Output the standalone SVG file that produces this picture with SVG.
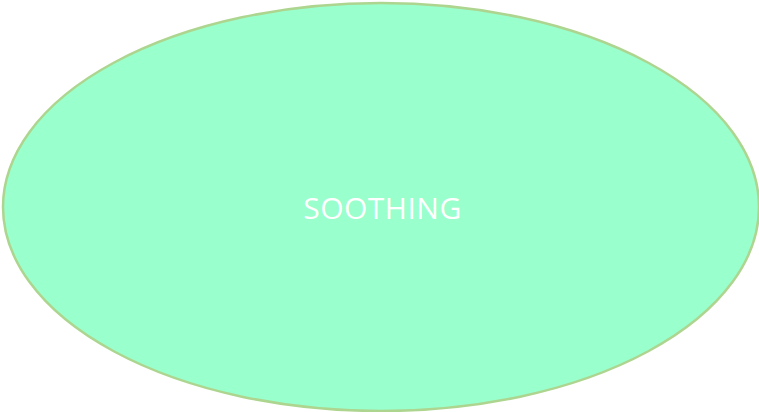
<svg xmlns="http://www.w3.org/2000/svg" width="759" height="412" viewBox="0 0 759 412">
<style>
.node{fill:#99ffcc;stroke:#add58f;stroke-width:2.5}
.label{font-family:"Open Sans","Noto Sans",sans-serif;font-size:30px;fill:#ffffff;text-anchor:middle;letter-spacing:0.5px}
</style>
<rect width="759" height="412" fill="#ffffff"/>
<g id="soothing">
<ellipse class="node" cx="381" cy="207" rx="378" ry="204"/>
<text class="label" x="382.5" y="219">SOOTHING</text>
</g>
<g id="connectors"/>
</svg>
